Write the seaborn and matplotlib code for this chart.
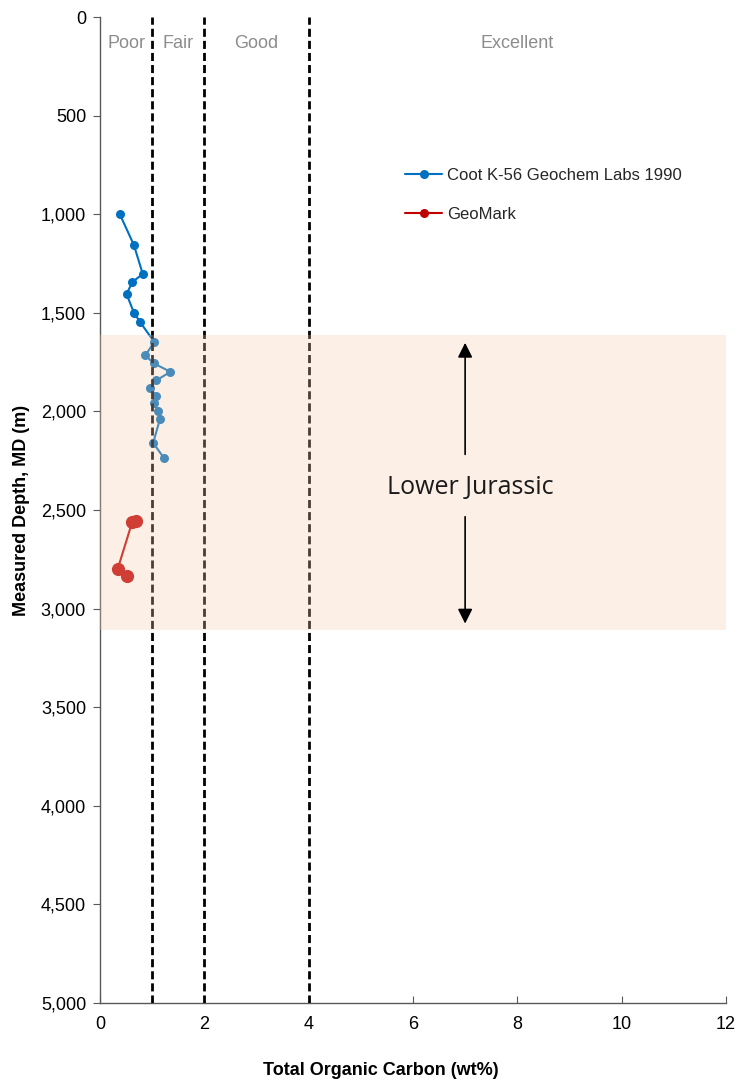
import matplotlib
matplotlib.use('Agg')
import matplotlib.pyplot as plt
import matplotlib.ticker as mticker
import seaborn as sns
import pandas as pd

# TOC data (wt%) vs measured depth (m)
coot_toc = [0.38, 0.65, 0.82, 0.62, 0.51, 0.65, 0.77, 1.04, 0.87, 1.03, 1.35, 1.08,
            0.96, 1.08, 1.03, 1.11, 1.15, 1.02, 1.23]
coot_depth = [1000, 1156, 1303, 1344, 1405, 1499, 1547, 1648, 1716, 1756, 1799, 1843,
              1880, 1922, 1957, 1998, 2039, 2159, 2238]
geomark_toc = [0.70, 0.62, 0.34, 0.51]
geomark_depth = [2554, 2559, 2799, 2835]

# quality cut-offs and labels
cutoffs = [1, 2, 4]
quality_labels = ['Poor', 'Fair', 'Good', 'Excellent']
quality_x = [0.5, 1.5, 3.0, 8.0]

jurassic_top = 1610
jurassic_base = 3110

sns.set_style('ticks')
plt.rcParams['font.family'] = ['Liberation Sans', 'DejaVu Sans']

fig = plt.figure(figsize=(7.4, 10.84), dpi=100)
ax = fig.add_axes([0.1351, 0.0747, 0.981 - 0.1351, 0.9843 - 0.0747])

coot = pd.DataFrame({'toc': coot_toc, 'depth': coot_depth})
geo = pd.DataFrame({'toc': geomark_toc, 'depth': geomark_depth})

sns.lineplot(data=coot, x='toc', y='depth', sort=False, estimator=None, ax=ax,
             color='#0070C0', marker='o', markersize=6.5, markeredgewidth=0, linewidth=1.5,
             label='Coot K-56 Geochem Labs 1990')
sns.lineplot(data=geo, x='toc', y='depth', sort=False, estimator=None, ax=ax,
             color='#C00000', marker='o', markersize=9.5, markeredgewidth=0, linewidth=1.5,
             label='GeoMark')

for c in cutoffs:
    ax.axvline(c, color='black', linewidth=2, dashes=(2.9, 1.45), zorder=3)

# Lower Jurassic band drawn on top, semi transparent
ax.axhspan(jurassic_top, jurassic_base, color='#F8CBAD', alpha=0.3, lw=0, zorder=6)

for lab, xq in zip(quality_labels, quality_x):
    ax.text(xq, 132, lab, color='#8C8C8C', fontsize=13, ha='center', va='center', zorder=7)

ax.annotate('', xy=(7, 1638), xytext=(7, 2232),
            arrowprops=dict(arrowstyle='-|>', color='black', lw=1.2, mutation_scale=22), zorder=8)
ax.annotate('', xy=(7, 3090), xytext=(7, 2520),
            arrowprops=dict(arrowstyle='-|>', color='black', lw=1.2, mutation_scale=22), zorder=8)
ax.text(7.1, 2385, 'Lower Jurassic', fontsize=18, family=['Open Sans', 'DejaVu Sans'],
        ha='center', va='center', color='#1a1a1a', zorder=8)

ax.set_xlim(0, 12)
ax.set_ylim(5000, 0)
ax.set_xticks(range(0, 13, 2))
ax.set_yticks(range(0, 5001, 500))
ax.yaxis.set_major_formatter(mticker.FuncFormatter(lambda v, p: f'{int(v):,}'))
ax.tick_params(axis='y', direction='out', length=5, labelsize=13, color='#595959',
               labelcolor='black', pad=5)
ax.tick_params(axis='x', direction='in', length=5, labelsize=13, color='#595959',
               labelcolor='black', pad=9)

sns.despine(ax=ax)
for s in ['left', 'bottom']:
    ax.spines[s].set_color('#595959')
    ax.spines[s].set_linewidth(1)

ax.set_xlabel('Total Organic Carbon (wt%)', fontsize=13, fontweight='bold', color='black')
ax.xaxis.set_label_coords(0.449, -0.068)
ax.xaxis.label.set_va('center')
ax.set_ylabel('Measured Depth, MD (m)', fontsize=13, fontweight='bold', labelpad=8,
              color='black')

leg = ax.legend(loc='upper left', bbox_to_anchor=(0.464, 0.862), frameon=False, fontsize=12,
                labelspacing=1.45, handlelength=2.2, handletextpad=0.3)
for h in leg.legend_handles:
    h.set_markersize(6.5)

fig.savefig('out.png', dpi=100)
